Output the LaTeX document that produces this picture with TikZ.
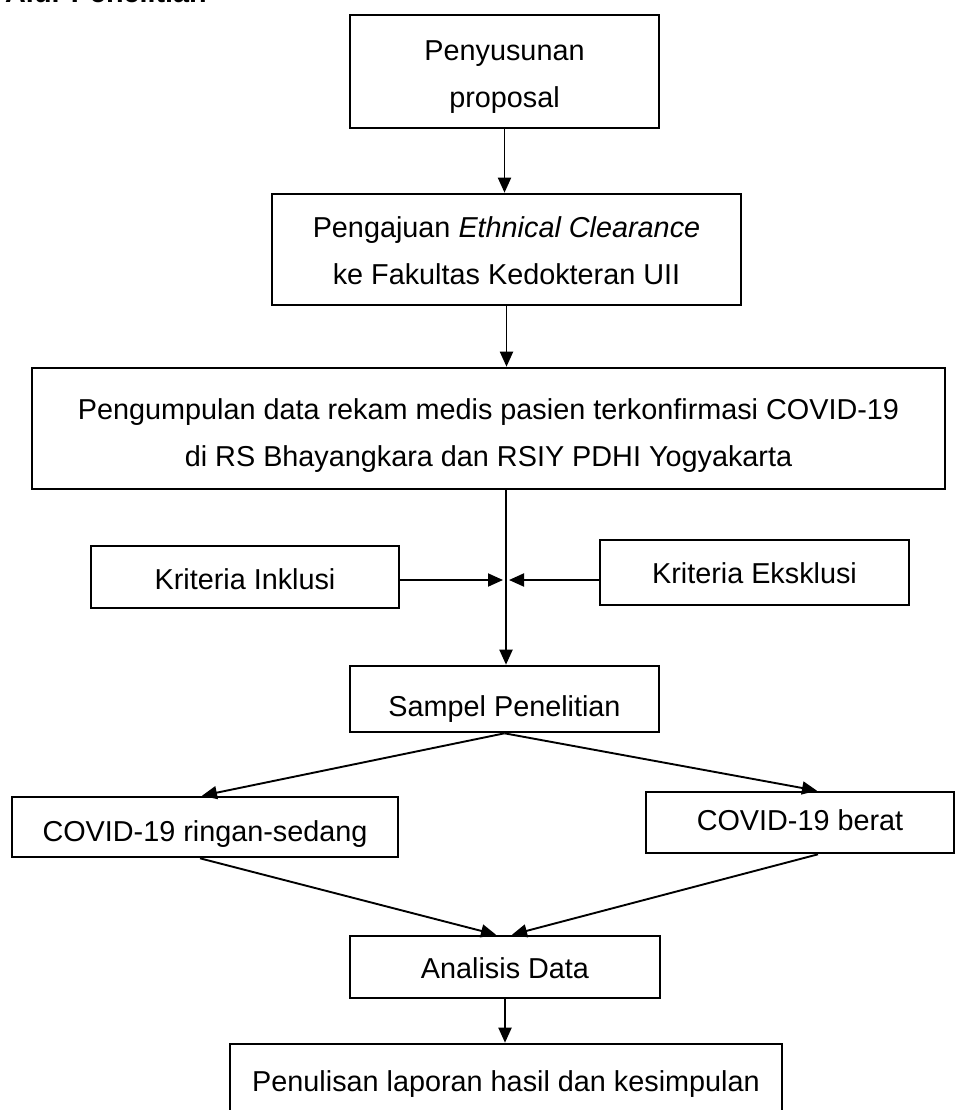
\documentclass[tikz,border=0pt]{standalone}
\usepackage{fontspec}
\setmainfont{Liberation Sans}
\usetikzlibrary{arrows.meta,calc}
\tikzset{
  box/.style={draw, line width=2.6pt, rectangle, inner sep=0pt, align=center,
    font=\fontsize{28.8}{47}\selectfont},
  conn/.style={line width=1.9pt, -{Triangle[length=15pt,width=13pt]}}
}
\begin{document}
\begin{tikzpicture}[x=1pt,y=-1pt]
\useasboundingbox (0,0) rectangle (977,1110);
\node[anchor=base west, inner sep=0pt, font=\fontsize{28.8}{34}\selectfont\bfseries] (title) at (5,3) {Alur Penelitian};

\node[box, minimum width=309pt, minimum height=113pt] (b1) at (504.5,71.5) {\rule{0pt}{31pt}Penyusunan\\proposal};
\node[box, minimum width=469pt, minimum height=111pt] (b2) at (506.5,249.5) {\rule{0pt}{24pt}Pengajuan \textit{Ethnical Clearance}\\ke Fakultas Kedokteran UII};
\node[box, minimum width=913pt, minimum height=121pt] (b3) at (488.5,428.5) {\rule{0pt}{35pt}Pengumpulan data rekam medis pasien terkonfirmasi COVID-19\\di RS Bhayangkara dan RSIY PDHI Yogyakarta};
\node[box, minimum width=308pt, minimum height=62pt, text height=25pt, text depth=0pt] (inkl) at (245,577) {Kriteria Inklusi};
\node[box, minimum width=309pt, minimum height=65pt, text height=21pt, text depth=0pt] (eksk) at (754.5,572.5) {Kriteria Eksklusi};
\node[box, minimum width=309pt, minimum height=66pt, text height=41pt, text depth=6pt] (sampel) at (504.5,699) {Sampel Penelitian};
\node[box, minimum width=386pt, minimum height=60pt, text height=35pt, text depth=6pt] (ringan) at (205,827) {COVID-19 ringan-sedang};
\node[box, minimum width=308pt, minimum height=61pt, text height=21pt, text depth=6pt] (berat) at (800,822.5) {COVID-19 berat};
\node[box, minimum width=310pt, minimum height=62pt, text height=29pt, text depth=6pt] (analisis) at (505,967) {Analisis Data};
\node[box, minimum width=552pt, minimum height=80pt, text height=21pt, text depth=6pt] (final) at (506,1084) {Penulisan laporan hasil dan kesimpulan};

\coordinate (j) at (506,580);

\draw[conn] (b1.south) -- (b1.south |- b2.north);
\draw[conn] (b2.south) -- (b2.south |- b3.north);
\draw[conn] (b3.south -| j) -- (j |- sampel.north);
\draw[conn, shorten >=3pt] (inkl.east |- j) -- (j);
\draw[conn, shorten >=3pt] (eksk.west |- j) -- (j);
\draw[conn] (sampel.south) -- ($(ringan.north)+(-3,0)$);
\draw[conn] (sampel.south) -- ($(berat.north)+(17,0)$);
\draw[conn] ($(ringan.south)+(-5,0)$) -- ($(analisis.north)+(-9,0)$);
\draw[conn] ($(berat.south)+(18,0)$) -- ($(analisis.north)+(7,0)$);
\draw[conn] (analisis.south) -- (analisis.south |- final.north);
\end{tikzpicture}
\end{document}
